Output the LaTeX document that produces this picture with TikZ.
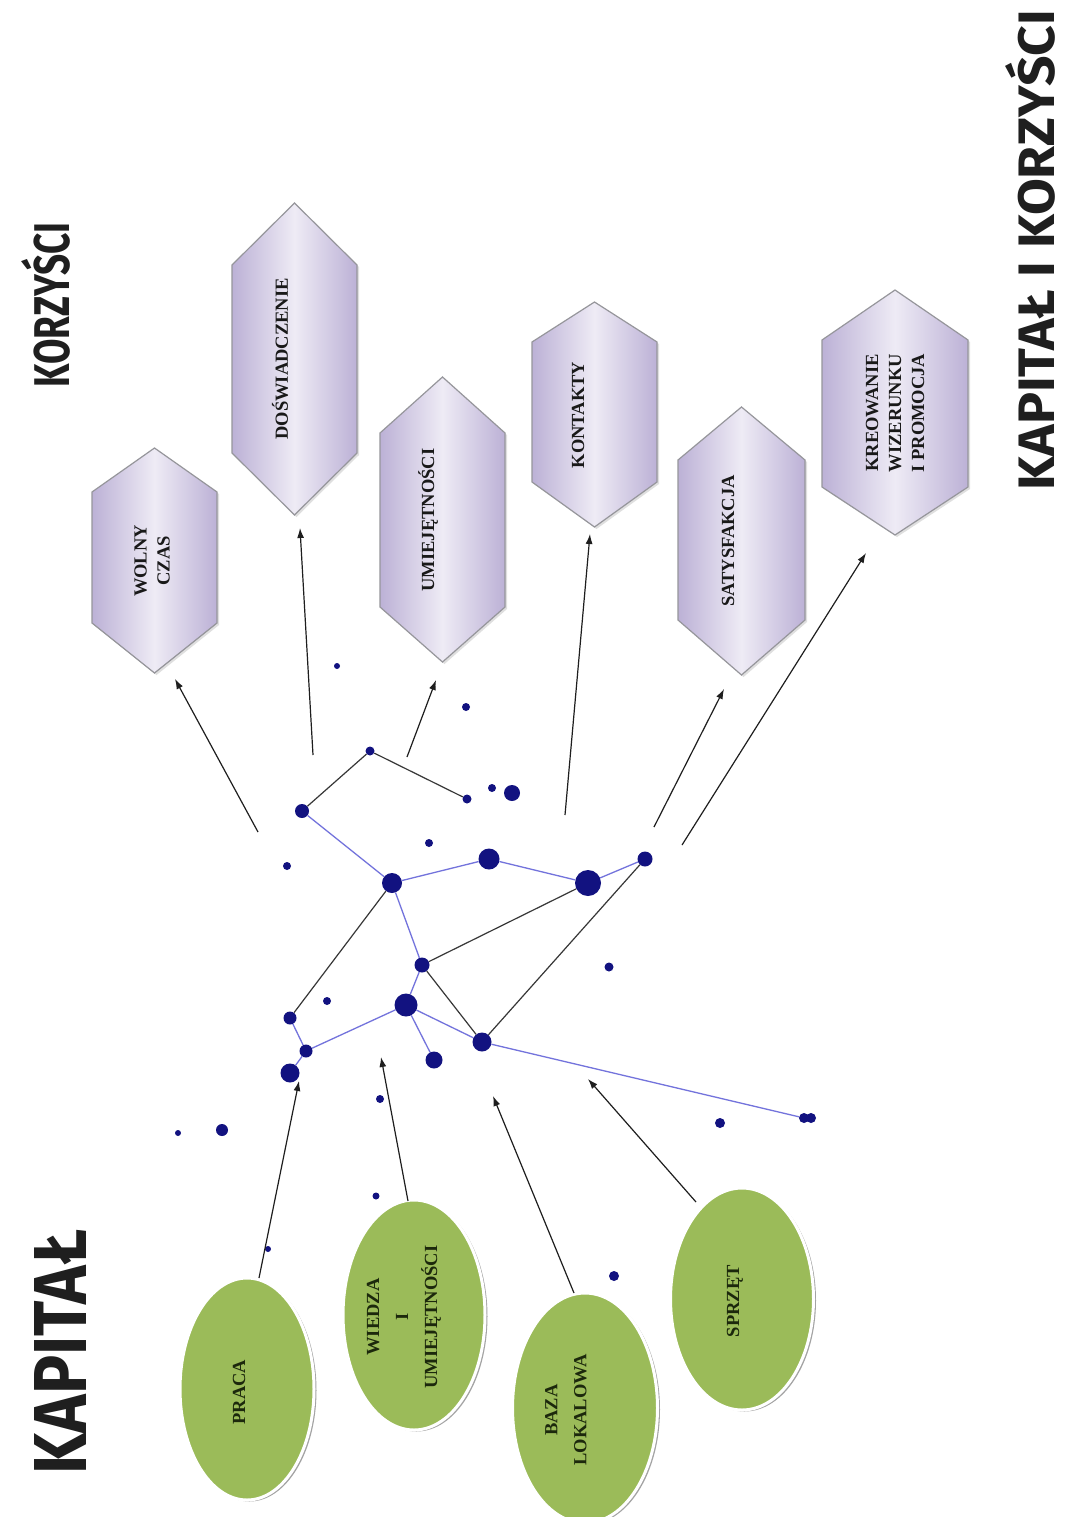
\documentclass[tikz,border=0pt]{standalone}
\usepackage{fontspec}
\setmainfont{Liberation Serif}
\newfontfamily\handfont{Fira Sans}
\usetikzlibrary{shadows,arrows.meta,shapes.geometric}

\definecolor{dotc}{RGB}{18,18,128}
\definecolor{linkc}{RGB}{115,115,220}
\definecolor{darkl}{RGB}{55,55,55}
\definecolor{hexedge}{RGB}{188,177,214}
\definecolor{hexmid}{RGB}{238,235,245}
\definecolor{hexborder}{RGB}{150,150,155}
\definecolor{leaf}{RGB}{155,187,89}
\definecolor{leaftext}{RGB}{28,40,12}
\definecolor{arrowc}{RGB}{30,30,30}

\newcommand\hexshape[6]{%
  \path[hexfill] ({(#1+#2)/2},#3) -- (#2,#4) -- (#2,#5) -- ({(#1+#2)/2},#6) -- (#1,#5) -- (#1,#4) -- cycle;}

\begin{document}
\begin{tikzpicture}[x=1pt,y=-1pt,
  hexfill/.style={left color=hexedge,right color=hexedge,middle color=hexmid,
    draw=hexborder,line width=1.2pt,
    drop shadow={shadow xshift=2pt,shadow yshift=-2pt,opacity=0.25}},
  hextext/.style={font=\bfseries\fontsize{18.5}{23}\selectfont,align=center,inner sep=0pt,text=black!90,rotate=90},
  leafshape/.style={ellipse,fill=leaf,draw=white,line width=3pt,inner sep=0pt,
    drop shadow={shadow xshift=2.5pt,shadow yshift=-1.5pt,fill=black!45,opacity=0.8}},
  leaftxt/.style={font=\bfseries\fontsize{18.5}{29}\selectfont,align=center,inner sep=0pt,text=leaftext,rotate=90},
  dot/.style={circle,fill=dotc,inner sep=0pt,minimum size=#1},
  blink/.style={draw=linkc,line width=1.3pt},
  dlink/.style={draw=darkl,line width=1.2pt},
  arr/.style={draw=arrowc,line width=1.2pt,-{Latex[length=10pt,width=7pt]}},
  title/.style={rotate=90,inner sep=0pt,text=black!88}
]
\useasboundingbox (0,0) rectangle (1066,1517);
\fill[white] (0,0) rectangle (1066,1517);
\clip (0,0) rectangle (1066,1517);

% titles
\node[title] (korzysci) at (46,305) {\resizebox{165pt}{48pt}{\handfont\bfseries KORZYŚCI}};
\node[title] (kapital) at (60,1352) {\resizebox{245pt}{52pt}{\handfont\bfseries KAPITAŁ}};
\node[title] (kapkorz) at (1030,250) {\resizebox{480pt}{49pt}{\handfont\bfseries KAPITAŁ I KORZYŚCI}};

% hexagons (benefits)
\hexshape{92}{217}{448}{492}{623}{673}
\node[hextext] (wolny) at (152,561) {WOLNY\\CZAS};
\hexshape{232}{357}{203}{265}{453}{515}
\node[hextext] (dosw) at (280,359) {DOŚWIADCZENIE};
\hexshape{380}{505}{377}{433}{607}{662}
\node[hextext] (umiej) at (428,520) {UMIEJĘTNOŚCI};
\hexshape{532}{657}{302}{342}{482}{527}
\node[hextext] (kontakty) at (578,415) {KONTAKTY};
\hexshape{678}{805}{407}{460}{620}{675}
\node[hextext] (satys) at (728,541) {SATYSFAKCJA};
\hexshape{822}{968}{290}{340}{487}{535}
\node[hextext] (kreow) at (895,413) {KREOWANIE\\WIZERUNKU\\I PROMOCJA};

% ellipses (capital)
\node[leafshape,minimum width=134pt,minimum height=222pt] (praca) at (247,1389) {};
\node[leaftxt] (praca-t) at (239,1392) {PRACA};
\node[leafshape,minimum width=142pt,minimum height=230pt] (wiedza) at (414,1315) {};
\node[leaftxt] (wiedza-t) at (404,1317) {WIEDZA\\I\\UMIEJĘTNOŚCI};
\node[leafshape,minimum width=145pt,minimum height=230pt] (baza) at (585,1408) {};
\node[leaftxt] (baza-t) at (566,1410) {BAZA\\LOKALOWA};
\node[leafshape,minimum width=143pt,minimum height=222pt] (sprzet) at (742,1299) {};
\node[leaftxt] (sprzet-t) at (735,1301) {SPRZĘT};

% constellation dots
\node[dot=14pt] (A) at (302,811) {};
\node[dot=9pt]  (B) at (370,751) {};
\node[dot=9pt]  (C) at (467,799) {};
\node[dot=8pt]  (D) at (492,788) {};
\node[dot=16pt] (E) at (512,793) {};
\node[dot=8pt]  (F) at (429,843) {};
\node[dot=8pt]  (G) at (287,866) {};
\node[dot=20pt] (H) at (392,883) {};
\node[dot=21pt] (I) at (489,859) {};
\node[dot=26pt] (J) at (588,883) {};
\node[dot=15pt] (K) at (645,859) {};
\node[dot=15pt] (L) at (422,965) {};
\node[dot=9pt]  (M) at (609,967) {};
\node[dot=8pt]  (N) at (327,1001) {};
\node[dot=13pt] (O) at (290,1018) {};
\node[dot=23pt] (P) at (406,1005) {};
\node[dot=13pt] (Q) at (306,1051) {};
\node[dot=19pt] (R) at (290,1073) {};
\node[dot=17pt] (S) at (434,1060) {};
\node[dot=19pt] (T) at (482,1042) {};
\node[dot=8pt]  (U) at (380,1099) {};
\node[dot=6pt]  (s1) at (337,666) {};
\node[dot=8pt]  (s2) at (466,707) {};
\node[dot=6pt]  (s3) at (178,1133) {};
\node[dot=12pt] (s4) at (222,1130) {};
\node[dot=7pt]  (s5) at (376,1196) {};
\node[dot=6pt]  (s6) at (268,1249) {};
\node[dot=10pt] (s7) at (720,1123) {};
\node[dot=10pt] (s8) at (804,1118) {};
\node[dot=10pt] (s9) at (811,1118) {};
\node[dot=10pt] (s10) at (614,1276) {};

% constellation links
\draw[blink] (A) -- (H);
\draw[blink] (H) -- (I);
\draw[blink] (I) -- (J);
\draw[blink] (J) -- (K);
\draw[blink] (H) -- (L);
\draw[blink] (L) -- (P);
\draw[blink] (P) -- (Q);
\draw[blink] (O) -- (Q);
\draw[blink] (Q) -- (R);
\draw[blink] (P) -- (S);
\draw[blink] (P) -- (T);
\draw[blink] (T) -- (s8);
\draw[dlink] (A) -- (B);
\draw[dlink] (B) -- (C);
\draw[dlink] (H) -- (O);
\draw[dlink] (L) -- (J);
\draw[dlink] (L) -- (T);
\draw[dlink] (T) -- (K);

% arrow endpoints
\coordinate (t1) at (258,832);  \coordinate (h1) at (175,679);
\coordinate (t2) at (313,755);  \coordinate (h2) at (300,528);
\coordinate (t3) at (407,757);  \coordinate (h3) at (436,680);
\coordinate (t4) at (565,815);  \coordinate (h4) at (590,534);
\coordinate (t5) at (654,827);  \coordinate (h5) at (724,689);
\coordinate (t6) at (682,845);  \coordinate (h6) at (866,553);
\coordinate (t7) at (259,1278); \coordinate (h7) at (299,1081);
\coordinate (t8) at (408,1201); \coordinate (h8) at (381,1057);
\coordinate (t9) at (574,1293); \coordinate (h9) at (493,1096);
\coordinate (t10) at (696,1202); \coordinate (h10) at (588,1079);

\draw[arr] (t1) -- (h1);
\draw[arr] (t2) -- (h2);
\draw[arr] (t3) -- (h3);
\draw[arr] (t4) -- (h4);
\draw[arr] (t5) -- (h5);
\draw[arr] (t6) -- (h6);
\draw[arr] (t7) -- (h7);
\draw[arr] (t8) -- (h8);
\draw[arr] (t9) -- (h9);
\draw[arr] (t10) -- (h10);
\end{tikzpicture}
\end{document}
